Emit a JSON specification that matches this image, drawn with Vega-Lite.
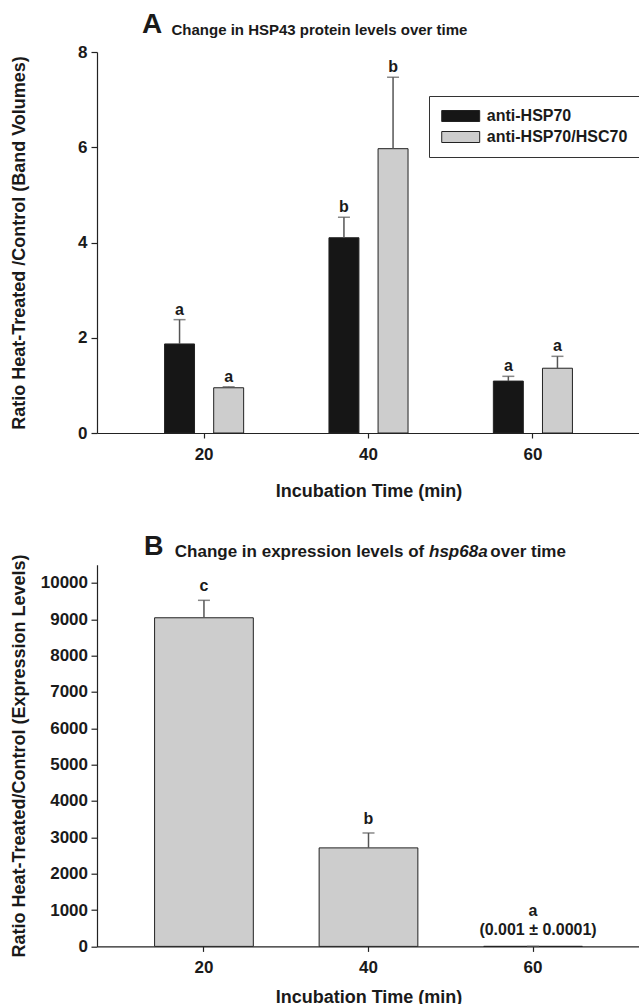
{
  "$schema": "https://vega.github.io/schema/vega-lite/v6.json",
  "background": "white",
  "autosize": {"type": "pad"},
  "padding": {"left": 10, "top": 11, "right": 0, "bottom": 0},
  "bounds": "flush",
  "spacing": 131.7,
  "datasets": {
    "hsp": [
      {"time": 20, "antibody": "anti-HSP70", "ratio": 1.87, "upper": 2.38, "group": "a"},
      {"time": 20, "antibody": "anti-HSP70/HSC70", "ratio": 0.95, "upper": 0.97, "group": "a"},
      {"time": 40, "antibody": "anti-HSP70", "ratio": 4.10, "upper": 4.53, "group": "b"},
      {"time": 40, "antibody": "anti-HSP70/HSC70", "ratio": 5.97, "upper": 7.47, "group": "b"},
      {"time": 60, "antibody": "anti-HSP70", "ratio": 1.09, "upper": 1.19, "group": "a"},
      {"time": 60, "antibody": "anti-HSP70/HSC70", "ratio": 1.36, "upper": 1.61, "group": "a"}
    ],
    "expr": [
      {"time": 20, "ratio": 9040, "upper": 9520, "group": "c"},
      {"time": 40, "ratio": 2710, "upper": 3120, "group": "b"},
      {"time": 60, "ratio": 0.001, "upper": 0.0011, "group": "a", "note": "(0.001 ± 0.0001)"}
    ]
  },
  "vconcat": [
    {
      "width": 543,
      "height": 381,
      "title": {"text": "A", "fontSize": 28, "fontWeight": "bold", "anchor": "start", "frame": "group", "dx": 45, "offset": -38.7, "baseline": "alphabetic", "color": "#1a1a1a"},
      "data": {"name": "hsp"},
      "encoding": {
        "x": {"field": "time", "type": "ordinal", "scale": {"paddingInner": 0.519, "paddingOuter": 0.411},
              "axis": {"orient": "bottom", "title": "Incubation Time (min)", "labelAngle": 0, "tickSize": 5, "labelPadding": 8, "titlePadding": 20}},
        "xOffset": {"field": "antibody", "type": "nominal", "scale": {"paddingInner": 0.39, "paddingOuter": 0}},
        "y": {"field": "ratio", "type": "quantitative", "scale": {"domain": [0, 8], "nice": false},
              "axis": {"title": "Ratio Heat-Treated /Control (Band Volumes)", "values": [0, 2, 4, 6, 8], "tickSize": 6, "labelPadding": 4, "titleX": -68.7, "titleFontSize": 18}}
      },
      "layer": [
        {
          "layer": [
            {
              "mark": {"type": "bar", "stroke": "#222", "strokeWidth": 1},
              "encoding": {
                "color": {"field": "antibody", "type": "nominal",
                  "scale": {"domain": ["anti-HSP70", "anti-HSP70/HSC70"], "range": ["#161616", "#cdcdcd"]},
                  "legend": {"title": null, "orient": "none", "legendX": 332, "legendY": 44,
                    "symbolType": "M-3.45,-1H3.45V1H-3.45Z", "symbolSize": 121, "symbolOffset": 11.7,
                    "symbolStrokeColor": "#222", "symbolStrokeWidth": 1,
                    "labelFontSize": 16, "labelFontWeight": "bold", "labelColor": "#1a1a1a", "labelOffset": 18.1, "labelLimit": 300,
                    "strokeColor": "#333", "fillColor": "white", "padding": 12, "rowPadding": 5}}
              }
            },
            {
              "mark": {"type": "rule", "color": "#555", "strokeWidth": 1.5},
              "encoding": {"y2": {"field": "upper"}}
            },
            {
              "mark": {"type": "tick", "orient": "horizontal", "size": 12, "thickness": 1.5, "color": "#555"},
              "encoding": {"y": {"field": "upper", "type": "quantitative"}}
            }
          ]
        },
        {
          "mark": {"type": "text", "baseline": "bottom", "dy": -2, "fontSize": 16, "fontWeight": "bold", "color": "#1a1a1a"},
          "encoding": {
            "x": {"field": "time", "type": "ordinal",
                  "axis": {"orient": "top", "labels": false, "ticks": false, "domain": false,
                           "title": "Change in HSP43 protein levels over time", "titleFontSize": 15,
                           "titleX": 74, "titleY": -17.3, "titleAlign": "left", "titleAnchor": "start", "titleBaseline": "alphabetic"}},
            "y": {"field": "upper", "type": "quantitative"},
            "text": {"field": "group"}
          }
        }
      ],
      "resolve": {"axis": {"x": "independent"}}
    },
    {
      "width": 543,
      "height": 381.7,
      "title": {"text": "B", "fontSize": 27, "fontWeight": "bold", "anchor": "start", "frame": "group", "dx": 47, "offset": -39.4, "baseline": "alphabetic", "color": "#1a1a1a"},
      "data": {"name": "expr"},
      "encoding": {
        "x": {"field": "time", "type": "ordinal", "scale": {"paddingInner": 0.40, "paddingOuter": 0.35},
              "axis": {"orient": "bottom", "title": "Incubation Time (min)", "labelAngle": 0, "tickSize": 5, "labelPadding": 8, "titlePadding": 13}},
        "y": {"field": "ratio", "type": "quantitative", "scale": {"domain": [0, 10500], "nice": false},
              "axis": {"orient": "left", "title": "Ratio Heat-Treated/Control (Expression Levels)", "values": [0, 1000, 2000, 3000, 4000, 5000, 6000, 7000, 8000, 9000, 10000], "format": "d", "tickSize": 6, "labelPadding": 3.5, "titleX": -68.7, "titleFontSize": 18}}
      },
      "layer": [
        {
          "layer": [
            {"mark": {"type": "bar", "fill": "#cdcdcd", "stroke": "#222", "strokeWidth": 1}},
            {"mark": {"type": "rule", "color": "#555", "strokeWidth": 1.5}, "encoding": {"y2": {"field": "upper"}}},
            {"mark": {"type": "tick", "orient": "horizontal", "size": 12, "thickness": 1.5, "color": "#555"},
             "encoding": {"y": {"field": "upper", "type": "quantitative"}}},
            {"transform": [{"filter": "datum.note"}],
             "mark": {"type": "text", "baseline": "bottom", "dy": -27.3, "fontSize": 16, "fontWeight": "bold", "color": "#1a1a1a"},
             "encoding": {"y": {"field": "upper", "type": "quantitative"}, "text": {"field": "group"}}},
            {"transform": [{"filter": "datum.note"}],
             "mark": {"type": "text", "baseline": "bottom", "dy": -8.3, "dx": 5, "fontSize": 16, "fontWeight": "bold", "color": "#1a1a1a"},
             "encoding": {"y": {"field": "upper", "type": "quantitative"}, "text": {"field": "note"}}}
          ]
        },
        {
          "transform": [{"filter": "!datum.note"}],
          "mark": {"type": "text", "baseline": "bottom", "dy": -6, "fontSize": 16, "fontWeight": "bold", "color": "#1a1a1a"},
          "encoding": {
            "x": {"field": "time", "type": "ordinal",
                  "axis": {"orient": "top", "labels": false, "ticks": false, "domain": false,
                           "title": "Change in expression levels of \u00a0\u00a0\u00a0\u00a0\u00a0\u00a0\u00a0\u00a0\u00a0\u00a0\u00a0\u00a0 over time", "titleFontSize": 17,
                           "titleX": 77.3, "titleY": -8.3, "titleAlign": "left", "titleAnchor": "start", "titleBaseline": "alphabetic"}},
            "y": {"field": "upper", "type": "quantitative", "scale": {"domain": [0, 10500], "nice": false},
                  "axis": {"orient": "right", "labels": false, "ticks": false, "domain": false,
                           "title": "hsp68a", "titleFontSize": 17, "titleFontStyle": "italic", "titleAngle": 0,
                           "titleX": -211.5, "titleY": -8.3, "titleAlign": "left", "titleBaseline": "alphabetic"}},
            "text": {"field": "group"}
          }
        }
      ],
      "resolve": {"axis": {"x": "independent", "y": "independent"}}
    }
  ],
  "config": {
    "font": "Liberation Sans",
    "view": {"stroke": null},
    "axis": {"labelFont": "Liberation Sans", "labelFontSize": 17, "labelFontWeight": "bold", "labelColor": "#1a1a1a",
             "titleFont": "Liberation Sans", "titleFontSize": 18, "titleFontWeight": "bold", "titleColor": "#1a1a1a",
             "domainColor": "#222", "tickColor": "#222", "domainWidth": 1.2, "tickWidth": 1.2, "grid": false},
    "legend": {"labelFont": "Liberation Sans"},
    "title": {"font": "Liberation Sans"}
  }
}
